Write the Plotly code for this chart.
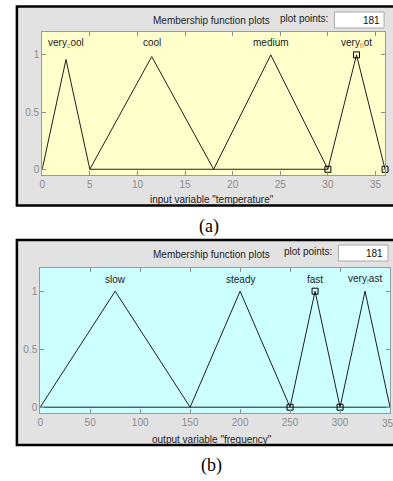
import plotly.graph_objects as go

# ---------------- data ----------------
SUBC = "#c07a30"
in_names = ["very<span style='color:%s'><sub>c</sub></span>ool" % SUBC, "cool", "medium",
            "very<span style='color:%s'><sub>h</sub></span>ot" % SUBC]
in_params = [[0, 2.5, 5], [5, 11.5, 18], [18, 24, 30], [30, 33, 36]]
in_peaks = [0.96, 0.985, 1.0, 1.0]
in_base = [5, 30]
in_selected = 3
in_ticks = [0, 5, 10, 15, 20, 25, 30, 35]
in_range = [0, 36]
in_label = 'input variable "temperature"'

out_names = ["slow", "steady", "fast",
             "very<span style='color:%s'><sub>f</sub></span>ast" % SUBC]
out_params = [[0, 75, 150], [150, 200, 250], [250, 275, 300], [300, 325, 350]]
out_peaks = [1.0, 1.0, 1.0, 1.0]
out_base = [0, 350]
out_selected = 2
out_ticks = [0, 50, 100, 150, 200, 250, 300, 350]
out_range = [0, 350]
out_label = 'output variable "frequency"'

y_ticks = [0, 0.5, 1]
y_ticktext = ["0", "0.5", "1"]
plot_points = "181"

# ---------------- layout helpers ----------------
W, H = 393, 481
def px(x):
    return x / W
def py(y):
    return 1 - y / H

LINE = "#1e1e1e"
TICKC = "#8c8c8c"
TXT = "#222222"
FONT = "Arial"

fig = go.Figure()

def add_panel(params, peaks, base, sel, xa, ya):
    for p, pk in zip(params, peaks):
        fig.add_trace(go.Scatter(x=[p[0], p[1], p[2]], y=[0, pk, 0], mode="lines",
                                 line=dict(color=LINE, width=1),
                                 xaxis=xa, yaxis=ya, showlegend=False, hoverinfo="skip"))
    fig.add_trace(go.Scatter(x=base, y=[0, 0], mode="lines",
                             line=dict(color=LINE, width=1),
                             xaxis=xa, yaxis=ya, showlegend=False, hoverinfo="skip"))
    p = params[sel]
    fig.add_trace(go.Scatter(x=p, y=[0, peaks[sel], 0], mode="markers",
                             marker=dict(symbol="square-open", size=6,
                                         color="black", line=dict(width=1)),
                             xaxis=xa, yaxis=ya, showlegend=False, hoverinfo="skip",
                             cliponaxis=False))

add_panel(in_params, in_peaks, in_base, in_selected, "x", "y")
add_panel(out_params, out_peaks, out_base, out_selected, "x2", "y2")

# panel geometry (pixels)
top = dict(frame=(14, 6.5, 420, 205.5), plot=(39.5, 32, 385, 175),
           title_y=21, pp_x=303.5, pp_y=18, box=(334, 12, 384, 28), num_x=382, num_y=20.5,
           xlabel_y=199, cap="(a)", cap_xy=(208, 226), bg="#ffffcc")
bot = dict(frame=(14, 240, 420, 445), plot=(37.5, 268, 390, 413),
           title_y=254, pp_x=307, pp_y=251, box=(338, 245, 388, 261), num_x=385, num_y=253.5,
           xlabel_y=439, cap="(b)", cap_xy=(210, 465), bg="#ccffff")

shapes = []
annotations = []
for pan, xlabel in ((top, in_label), (bot, out_label)):
    fx0, fy0, fx1, fy1 = pan["frame"]
    shapes.append(dict(type="rect", xref="paper", yref="paper",
                       x0=px(fx0), x1=px(fx1), y0=py(fy0), y1=py(fy1),
                       fillcolor="#e2e2e2", line=dict(color="black", width=2.5), layer="below"))
    ax0, ay0, ax1, ay1 = pan["plot"]
    shapes.append(dict(type="rect", xref="paper", yref="paper",
                       x0=px(ax0), x1=px(ax1), y0=py(ay0), y1=py(ay1),
                       fillcolor=pan["bg"], line=dict(width=0), layer="below"))
    bx0, by0, bx1, by1 = pan["box"]
    shapes.append(dict(type="rect", xref="paper", yref="paper",
                       x0=px(bx0), x1=px(bx1), y0=py(by0), y1=py(by1),
                       fillcolor="white", line=dict(color="#a8a8a8", width=1), layer="below"))
    annotations.append(dict(text="Membership function plots", xref="paper", yref="paper",
                            x=px(210.5), y=py(pan["title_y"]), showarrow=False,
                            xanchor="center", yanchor="middle",
                            font=dict(family=FONT, size=10, color=TXT)))
    annotations.append(dict(text="plot points:", xref="paper", yref="paper",
                            x=px(pan["pp_x"]), y=py(pan["pp_y"]), showarrow=False,
                            xanchor="center", yanchor="middle",
                            font=dict(family=FONT, size=10, color=TXT)))
    annotations.append(dict(text=plot_points, xref="paper", yref="paper",
                            x=px(pan["num_x"]), y=py(pan["num_y"]), showarrow=False,
                            xanchor="right", yanchor="middle",
                            font=dict(family=FONT, size=10, color="#111111")))
    annotations.append(dict(text=xlabel, xref="paper", yref="paper",
                            x=px(210.5), y=py(pan["xlabel_y"]), showarrow=False,
                            xanchor="center", yanchor="middle",
                            font=dict(family=FONT, size=10, color=TXT)))
    annotations.append(dict(text=pan["cap"], xref="paper", yref="paper",
                            x=px(pan["cap_xy"][0]), y=py(pan["cap_xy"][1]), showarrow=False,
                            xanchor="center", yanchor="middle",
                            font=dict(family="Liberation Serif, Times New Roman, serif",
                                      size=18, color="black")))

for names, params, xa, ya in ((in_names, in_params, "x", "y"),
                              (out_names, out_params, "x2", "y2")):
    for n, p in zip(names, params):
        annotations.append(dict(text=n, x=p[1], y=1.105, xref=xa, yref=ya,
                                showarrow=False, xanchor="center", yanchor="middle",
                                font=dict(family=FONT, size=10, color=TXT)))

# last bottom tick label sits at the right edge of the window (partly cut off there)
annotations.append(dict(text=str(out_ticks[-1]), x=out_ticks[-1], xref="x2",
                        y=py(423.5), yref="paper", showarrow=False,
                        xanchor="center", yanchor="middle",
                        font=dict(family=FONT, size=10, color=TICKC)))

def xaxis(rng, ticks, dom, anchor, last_label=True):
    txt = [str(t) for t in ticks]
    if not last_label:
        txt[-1] = ""
    return dict(domain=dom, range=rng, tickvals=ticks, ticktext=txt,
                ticks="inside", ticklen=4, tickcolor=TICKC, showline=True,
                linecolor="#9a9a9a", linewidth=1, mirror="ticks", showgrid=False,
                zeroline=False, tickfont=dict(family=FONT, size=10, color=TICKC),
                fixedrange=True, anchor=anchor)

def yaxis(dom, anchor):
    return dict(domain=dom, range=[-0.05, 1.2], tickvals=y_ticks, ticktext=y_ticktext,
                ticks="inside", ticklen=4, tickcolor=TICKC, showline=True,
                linecolor="#9a9a9a", linewidth=1, mirror="ticks", showgrid=False,
                zeroline=False, tickfont=dict(family=FONT, size=10, color=TICKC),
                fixedrange=True, anchor=anchor)

fig.update_layout(
    width=W, height=H, margin=dict(l=0, r=0, t=0, b=0),
    paper_bgcolor="white", plot_bgcolor="rgba(0,0,0,0)",
    xaxis=xaxis(in_range, in_ticks, [px(top["plot"][0]), px(top["plot"][2])], "y"),
    yaxis=yaxis([py(top["plot"][3]), py(top["plot"][1])], "x"),
    xaxis2=xaxis(out_range, out_ticks, [px(bot["plot"][0]), px(bot["plot"][2])], "y2",
                 last_label=False),
    yaxis2=yaxis([py(bot["plot"][3]), py(bot["plot"][1])], "x2"),
    shapes=shapes, annotations=annotations, showlegend=False,
)

post = (
    "document.documentElement.style.overflow='hidden';"
    "document.body.style.margin='0';document.body.style.overflow='hidden';"
)
fig.write_html("out.html", config={"displayModeBar": False}, post_script=post)
